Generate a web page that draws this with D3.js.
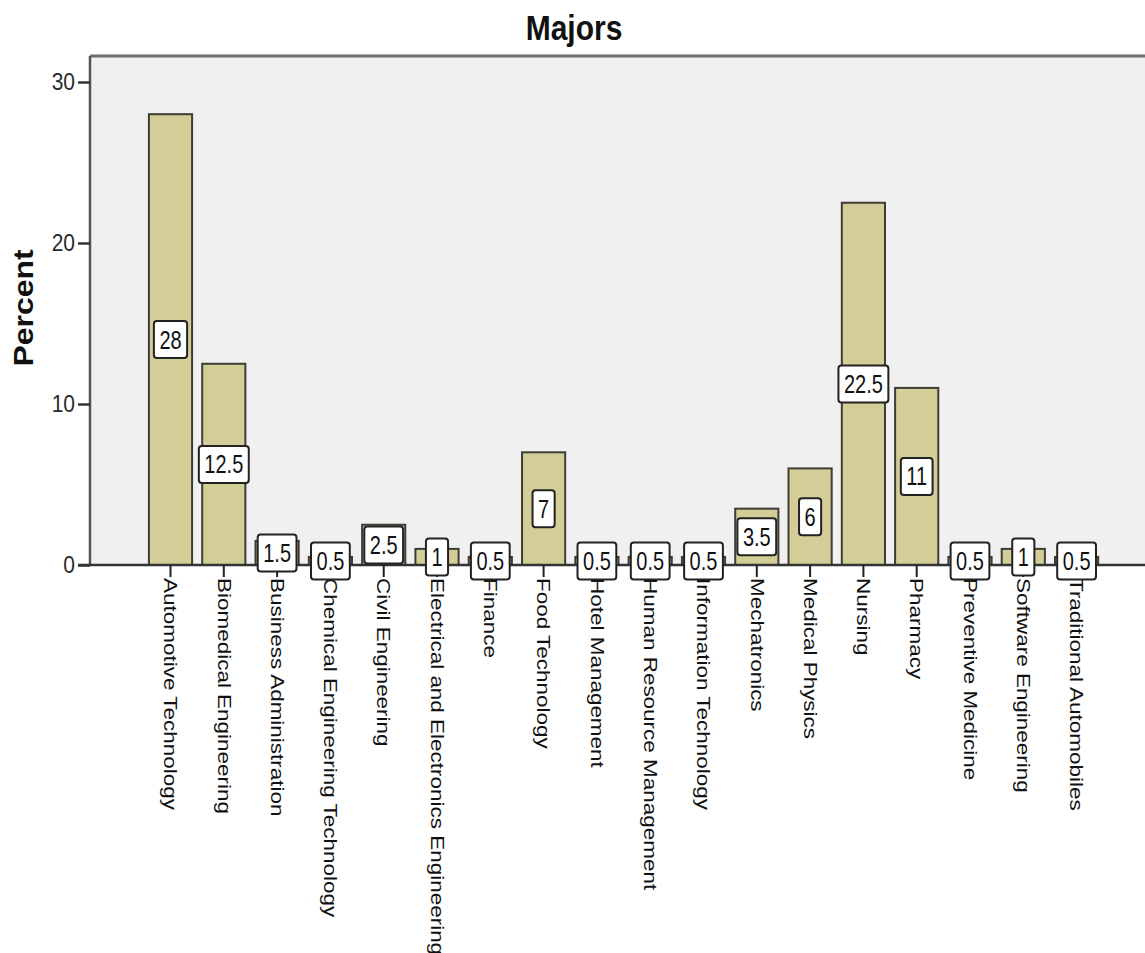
<!DOCTYPE html>
<html>
<head>
<meta charset="utf-8">
<script src="https://cdn.jsdelivr.net/npm/d3@7"></script>
<style>
  html, body { margin: 0; padding: 0; background: #ffffff; }
  svg { display: block; font-family: "Liberation Sans", Arial, sans-serif; }
</style>
</head>
<body>
<svg id="chart" width="1145" height="953"></svg>
<script>
// Share of respondents by major (percent)
const categories = [
  "Automotive Technology",
  "Biomedical Engineering",
  "Business Administration",
  "Chemical Engineering Technology",
  "Civil Engineering",
  "Electrical and Electronics Engineering",
  "Finance",
  "Food Technology",
  "Hotel Management",
  "Human Resource Management",
  "Information Technology",
  "Mechatronics",
  "Medical Physics",
  "Nursing",
  "Pharmacy",
  "Preventive Medicine",
  "Software Engineering",
  "Traditional Automobiles"
];
const percents = [28, 12.5, 1.5, 0.5, 2.5, 1, 0.5, 7, 0.5, 0.5, 0.5, 3.5, 6, 22.5, 11, 0.5, 1, 0.5];
const yTicks = [0, 10, 20, 30];
const chartTitle = "Majors";
const yTitle = "Percent";

const svg = d3.select("#chart");
const W = 1145;

// plot frame
const plotLeft = 90, plotTop = 56, plotBottom = 565;

const x = d3.scaleBand()
  .domain(categories)
  .range([143.85, 1103.25])
  .paddingInner(0.19)
  .paddingOuter(0.095);

const y = d3.scaleLinear()
  .domain([0, 30])
  .range([plotBottom, 82]);

// plot background
svg.append("rect")
  .attr("x", plotLeft).attr("y", plotTop)
  .attr("width", W - plotLeft + 5).attr("height", plotBottom - plotTop)
  .attr("fill", "#f0f0f0");

// top frame line
svg.append("line")
  .attr("x1", plotLeft).attr("x2", W + 5)
  .attr("y1", plotTop).attr("y2", plotTop)
  .attr("stroke", "#6e6e6e").attr("stroke-width", 3);

// bars
svg.append("g").selectAll("rect")
  .data(percents)
  .join("rect")
  .attr("x", (d, i) => x(categories[i]))
  .attr("y", d => y(d))
  .attr("width", x.bandwidth())
  .attr("height", d => y(0) - y(d))
  .attr("fill", "#d3ce97")
  .attr("stroke", "#3d3d35")
  .attr("stroke-width", 2);

// y axis
const yAxis = svg.append("g")
  .attr("transform", `translate(${plotLeft},0)`)
  .call(d3.axisLeft(y).tickValues(yTicks).tickSize(12).tickPadding(3).tickFormat(d3.format("d")));
yAxis.select(".domain")
  .attr("d", `M0,${plotTop}V${plotBottom}`)
  .attr("stroke", "#555").attr("stroke-width", 2.5);
yAxis.selectAll(".tick line").attr("stroke", "#333").attr("stroke-width", 2.5);
yAxis.selectAll(".tick text")
  .attr("x", null).attr("dy", null)
  .attr("font-size", 21)
  .attr("fill", "#2a2a2a")
  .attr("dominant-baseline", "central")
  .attr("transform", "translate(-15,0) scale(1,1.12)");

// x axis
const xAxis = svg.append("g")
  .attr("transform", `translate(0,${plotBottom})`)
  .call(d3.axisBottom(x).tickSize(12).tickSizeOuter(0));
xAxis.select(".domain")
  .attr("d", `M${plotLeft - 12},0H${W + 5}`)
  .attr("stroke", "#333").attr("stroke-width", 2.5);
xAxis.selectAll(".tick line").attr("stroke", "#222").attr("stroke-width", 2);
xAxis.selectAll(".tick text")
  .attr("x", 0).attr("y", 0).attr("dy", "0.35em")
  .attr("text-anchor", "start")
  .attr("font-size", 17.7)
  .attr("fill", "#111")
  .attr("transform", "translate(0,13) scale(1,1.27) rotate(90)");

// value labels in white boxes, centred at half the bar height
const lab = svg.append("g").selectAll("g")
  .data(percents)
  .join("g")
  .attr("transform", (d, i) => `translate(${x(categories[i]) + x.bandwidth() / 2},${y(d / 2)})`);

const labRect = lab.append("rect")
  .attr("fill", "#ffffff")
  .attr("stroke", "#222")
  .attr("stroke-width", 2)
  .attr("rx", 3).attr("ry", 3);

const labText = lab.append("text")
  .attr("text-anchor", "middle")
  .attr("dominant-baseline", "central")
  .attr("font-size", 20)
  .attr("fill", "#111")
  .attr("transform", "scale(1,1.3)")
  .text(d => d3.format("~g")(d));

labText.each(function (d, i) {
  const w = this.getComputedTextLength() + 11;
  const h = 37;
  d3.select(labRect.nodes()[i])
    .attr("x", -w / 2).attr("y", -h / 2)
    .attr("width", w).attr("height", h);
});

// y axis title
svg.append("text")
  .attr("transform", "translate(33,308) scale(1,1.14) rotate(-90)")
  .attr("text-anchor", "middle")
  .attr("font-size", 28)
  .attr("font-weight", "bold")
  .attr("fill", "#111")
  .text(yTitle);

// chart title
svg.append("text")
  .attr("transform", "translate(574,40) scale(1,1.15)")
  .attr("text-anchor", "middle")
  .attr("font-size", 30)
  .attr("font-weight", "bold")
  .attr("fill", "#111")
  .text(chartTitle);
</script>
</body>
</html>
